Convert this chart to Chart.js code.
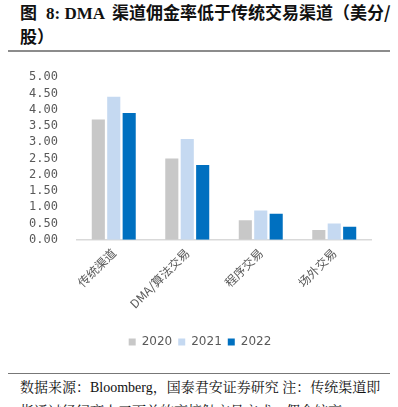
<!DOCTYPE html>
<html>
<head>
<meta charset="utf-8">
<script src="https://cdn.jsdelivr.net/npm/chart.js@4/dist/chart.umd.min.js"></script>
<style>
html,body{margin:0;padding:0;width:398px;height:407px;overflow:hidden;background:#fff;}
#title{position:absolute;left:20px;top:1px;width:378px;font-family:"Noto Sans CJK SC",sans-serif;font-weight:bold;font-size:17px;line-height:22px;color:#111;white-space:nowrap;}
#title .en{font-family:"Liberation Serif",serif;font-weight:bold;font-size:17px;margin:0 7px 0 9px;}
#rule1{position:absolute;left:8px;top:50px;width:382px;height:2px;background:#8c8c8c;}
#wrap{position:absolute;left:0;top:51px;width:398px;height:313px;}
#rule2{position:absolute;left:8px;top:373px;width:382px;height:1px;background:#777;}
#foot{position:absolute;left:20px;top:375px;width:375px;font-family:"Noto Serif CJK SC","Liberation Serif",serif;font-size:14px;line-height:23px;color:#111;white-space:nowrap;}
#foot .en{font-family:"Liberation Serif",serif;}
</style>
</head>
<body>
<div id="title">图<span class="en">8: DMA</span>渠道佣金率低于传统交易渠道（美分/<br>股）</div>
<div id="rule1"></div>
<div id="wrap"><canvas id="c"></canvas></div>
<div id="rule2"></div>
<div id="foot">数据来源：<span class="en">Bloomberg</span>，国泰君安证券研究&nbsp;注：传统渠道即<br>指通过经纪商人工下单的高接触交易方式，佣金较高</div>
<script>
const categories = ["传统渠道", "DMA/算法交易", "程序交易", "场外交易"];
const seriesNames = ["2020", "2021", "2022"];
const values2020 = [3.7, 2.5, 0.6, 0.3];
const values2021 = [4.4, 3.1, 0.9, 0.5];
const values2022 = [3.9, 2.3, 0.8, 0.4];
const seriesColors = ["#C8C8C8", "#C5D9F1", "#0070C0"];
const yMin = 0, yMax = 5, yStep = 0.5;

const allValues = [values2020, values2021, values2022];
new Chart(document.getElementById('c'), {
  type: 'bar',
  data: {
    labels: categories,
    datasets: seriesNames.map((n, i) => ({
      label: n,
      data: allValues[i],
      backgroundColor: seriesColors[i],
      borderWidth: 0,
      categoryPercentage: 0.63,
      barPercentage: 0.85
    }))
  },
  options: {
    responsive: true,
    maintainAspectRatio: false,
    animation: false,
    layout: {padding: {left: 29, right: 27, top: 1, bottom: 6}},
    plugins: {
      legend: {
        position: 'bottom',
        labels: {
          boxWidth: 7, boxHeight: 7,
          color: '#595959',
          font: {family: 'DejaVu Sans', size: 12},
          padding: 6
        }
      },
      tooltip: {enabled: false}
    },
    scales: {
      x: {
        grid: {display: false, drawTicks: false},
        border: {display: true, color: '#D9D9D9', width: 1.5},
        afterFit: s => { s.paddingLeft = 0; s.paddingRight = 0; s.height += 13; },
        ticks: {
          color: '#595959',
          font: {family: 'Noto Sans CJK SC', size: 12},
          minRotation: 45, maxRotation: 45,
          autoSkip: false,
          padding: 6
        }
      },
      y: {
        min: yMin, max: yMax,
        grid: {display: false, drawTicks: false},
        border: {display: false},
        afterFit: s => { s.width = 48; },
        ticks: {
          stepSize: yStep,
          autoSkip: false,
          color: '#595959',
          font: {family: 'DejaVu Sans Mono', size: 12},
          padding: 19,
          callback: v => Number(v).toFixed(2)
        }
      }
    }
  }
});
</script>
</body>
</html>
